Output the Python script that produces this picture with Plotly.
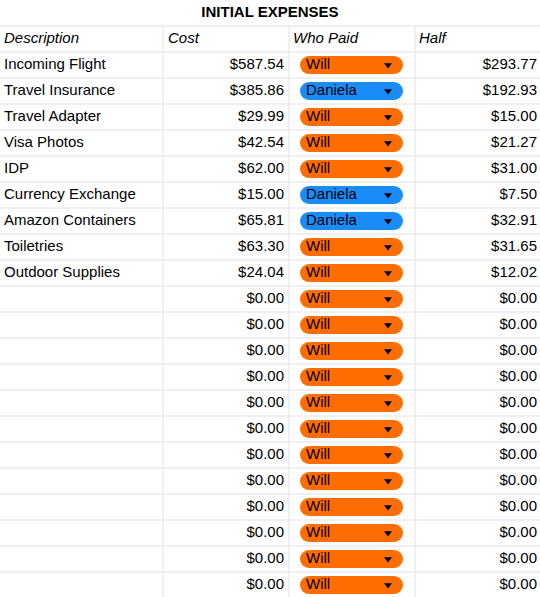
import plotly.graph_objects as go

descriptions = ["Incoming Flight", "Travel Insurance", "Travel Adapter", "Visa Photos", "IDP",
                "Currency Exchange", "Amazon Containers", "Toiletries", "Outdoor Supplies"] + [""] * 12
costs = [587.54, 385.86, 29.99, 42.54, 62.00, 15.00, 65.81, 63.30, 24.04] + [0.0] * 12
halves = [293.77, 192.93, 15.00, 21.27, 31.00, 7.50, 32.91, 31.65, 12.02] + [0.0] * 12
who_paid = ["Will", "Daniela", "Will", "Will", "Will", "Daniela", "Daniela", "Will", "Will"] + ["Will"] * 12
headers = ["Description", "Cost", "Who Paid", "Half"]
title = "INITIAL EXPENSES"

W, H = 540, 597
col_edges = [0, 163, 289, 415, 540]
row_h = 26
top = 52
colors = {"Will": "#ff6d01", "Daniela": "#1a8cfa"}
font = "Liberation Sans, Arial"

n = len(descriptions)
centers = [top + row_h * i + row_h / 2 for i in range(n)]

fig = go.Figure()
shapes = []
# grid lines
for i in range(n + 2):
    y = row_h + row_h * i
    shapes.append(dict(type="line", x0=0, x1=W, y0=y, y1=y, line=dict(color="#e2e2e2", width=1), layer="below"))
for x in col_edges[1:-1]:
    shapes.append(dict(type="line", x0=x, x1=x, y0=row_h, y1=H, line=dict(color="#e2e2e2", width=1), layer="below"))
# pills: rect plus two end circles
for yc, who in zip(centers, who_paid):
    x0, x1, r = 300, 403, 9
    c = colors[who]
    shapes.append(dict(type="rect", x0=x0 + r, x1=x1 - r, y0=yc - r, y1=yc + r,
                       fillcolor=c, line=dict(width=0), layer="below"))
    for cx in (x0 + r, x1 - r):
        shapes.append(dict(type="circle", x0=cx - r, x1=cx + r, y0=yc - r, y1=yc + r,
                           fillcolor=c, line=dict(width=0), layer="below"))

txt = dict(family=font, size=15, color="#000000")
fig.add_trace(go.Scatter(x=[270], y=[13], mode="text", text=[f"<b>{title}</b>"], textfont=txt, cliponaxis=False))
fig.add_trace(go.Scatter(x=[4, 168, 293, 419], y=[39] * 4, mode="text", text=[f"<i>{h}</i>" for h in headers],
                         textposition="middle right", textfont=txt, cliponaxis=False))
fig.add_trace(go.Scatter(x=[4] * n, y=centers, mode="text", text=descriptions,
                         textposition="middle right", textfont=txt, cliponaxis=False))
fig.add_trace(go.Scatter(x=[284] * n, y=centers, mode="text", text=[f"${c:,.2f}" for c in costs],
                         textposition="middle left", textfont=txt, cliponaxis=False))
fig.add_trace(go.Scatter(x=[537] * n, y=centers, mode="text", text=[f"${h:,.2f}" for h in halves],
                         textposition="middle left", textfont=txt, cliponaxis=False))
fig.add_trace(go.Scatter(x=[306] * n, y=centers, mode="text", text=who_paid,
                         textposition="middle right", textfont=txt, cliponaxis=False))
fig.add_trace(go.Scatter(x=[388] * n, y=centers, mode="markers", cliponaxis=False,
                         marker=dict(symbol="triangle-down", size=7, color="#000000")))

fig.update_layout(width=W, height=H, margin=dict(l=0, r=0, t=0, b=0), showlegend=False,
                  plot_bgcolor="white", paper_bgcolor="white", shapes=shapes,
                  xaxis=dict(range=[0, W], visible=False, fixedrange=True),
                  yaxis=dict(range=[H, 0], visible=False, fixedrange=True))
fig.write_html("out.html", config={"displayModeBar": False},
               post_script="document.body.style.margin='0';document.body.style.overflow='hidden';")
